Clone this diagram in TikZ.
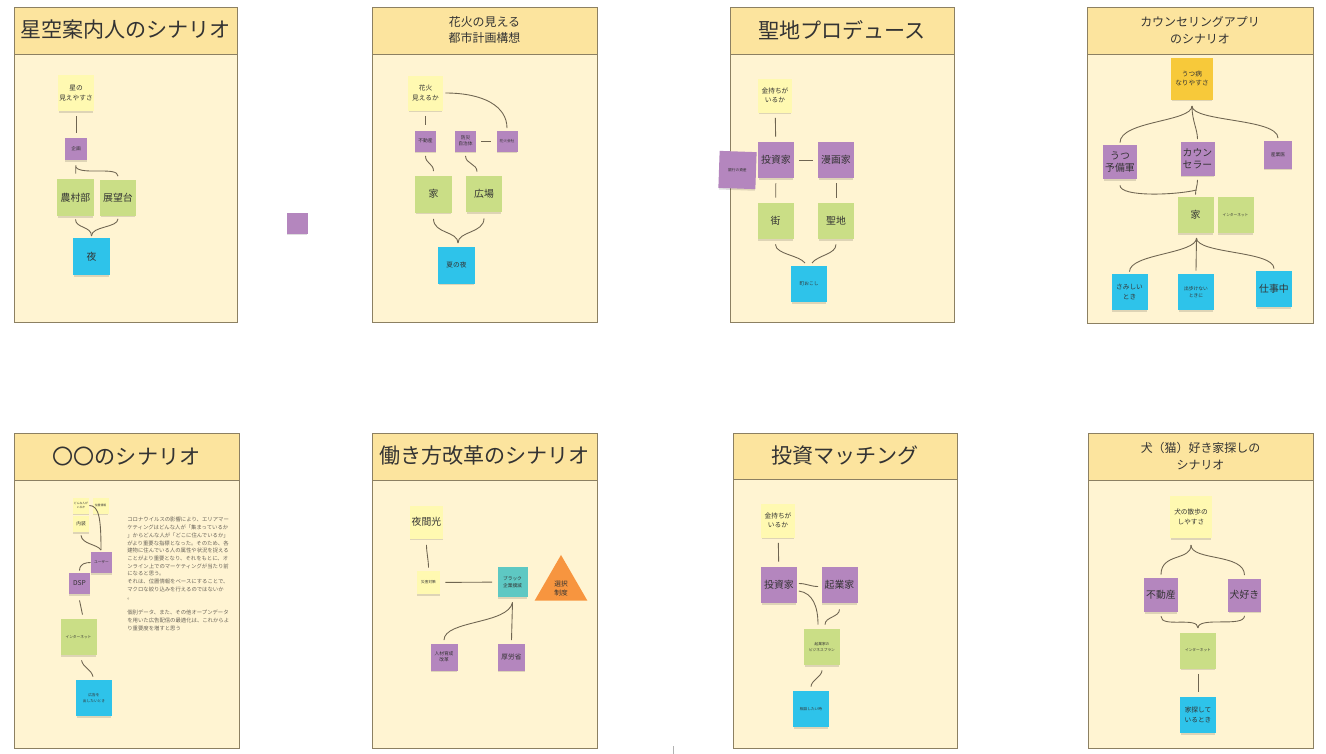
\documentclass[tikz,border=0pt]{standalone}
\usepackage{fontspec}
\setmainfont{Noto Sans CJK JP}
\usetikzlibrary{shapes.geometric,shadows}

\definecolor{panelbg}{HTML}{FFF4D2}
\definecolor{headbg}{HTML}{FCE49E}
\definecolor{panelline}{HTML}{8C8062}
\definecolor{padyellow}{HTML}{FFF9B1}
\definecolor{padpurple}{HTML}{B486BE}
\definecolor{padgreen}{HTML}{CADE86}
\definecolor{padblue}{HTML}{2EC3EA}
\definecolor{padorange}{HTML}{F7C93A}
\definecolor{padteal}{HTML}{5EC8C3}
\definecolor{trifill}{HTML}{F7953F}
\definecolor{linkcol}{HTML}{6F6551}
\definecolor{inkcol}{HTML}{333333}
\definecolor{memocol}{HTML}{6A6459}

\tikzset{
  panelbox/.style={fill=panelbg, draw=panelline, line width=0.5pt},
  headbox/.style={fill=headbg, draw=panelline, line width=0.5pt},
  ptitle/.style={font=\fontsize{12}{14}\selectfont, text=inkcol},
  ptitletwo/.style={font=\fontsize{6.8}{9.6}\selectfont, text=inkcol, align=center},
  note/.style={minimum size=#1*0.2mm, inner sep=0.3pt, align=center, text=inkcol,
    drop shadow={shadow xshift=0pt, shadow yshift=-0.45mm, shadow scale=0.97, opacity=0.13, fill=black}},
  ynote/.style={note=#1, fill=padyellow},
  pnote/.style={note=#1, fill=padpurple},
  gnote/.style={note=#1, fill=padgreen},
  bnote/.style={note=#1, fill=padblue},
  onote/.style={note=#1, fill=padorange},
  tnote/.style={note=#1, fill=padteal},
  bigtxt/.style={font=\fontsize{5.6}{6.8}\selectfont},
  midtxt/.style={font=\fontsize{3.8}{5.4}\selectfont},
  smtxt/.style={font=\fontsize{2.7}{3.6}\selectfont},
  tinytxt/.style={font=\fontsize{2.1}{3}\selectfont},
  microtxt/.style={font=\fontsize{1.6}{2.3}\selectfont},
  link/.style={draw=linkcol, line width=0.5pt},
  linkgap/.style={shorten <=1mm, shorten >=1mm},
}

\begin{document}
\begin{tikzpicture}[x=0.2mm, y=-0.2mm]
  \fill[white] (0,0) rectangle (1326,754);
  \useasboundingbox (0,0) rectangle (1326,754);

  % Panel 1 - star guide
  \draw[panelbox] (14,7) rectangle (237,322);
  \draw[headbox] (14,7) rectangle (237,54);
  \node[ptitle] (t1) at (125.5,30) {星空案内人のシナリオ};
  \node[ynote=36, midtxt] (p1star) at (76,93) {星の\\見えやすさ};
  \node[pnote=22, smtxt] (p1sub) at (76,149) {企画};
  \node[gnote=37, bigtxt] (p1farm) at (75.5,197.5) {農村部};
  \node[gnote=36, bigtxt] (p1view) at (118,197.5) {展望台};
  \node[bnote=37, bigtxt] (p1night) at (91.5,256.5) {夜};
  \coordinate (p1low) at (91.5,236);
  \draw[link, linkgap] (p1star) -- (p1sub);
  \draw[link, linkgap] (p1farm) -- (p1sub);
  \draw[link] ([yshift=-1.4mm]p1sub.south) .. controls +(6,8) and +(0,-10) .. ([yshift=0.6mm]p1view.north);
  \draw[link, shorten <=0.6mm] (p1farm.south) .. controls +(0,12) and +(0,-10) .. (p1low);
  \draw[link, shorten <=0.6mm] (p1view.south) .. controls +(0,12) and +(0,-10) .. (p1low);

  % stray sticky between panels
  \node[pnote=21] (stray) at (297,223) {};

  % Panel 2 - fireworks city
  \draw[panelbox] (372,7) rectangle (597,322);
  \draw[headbox] (372,7) rectangle (597,54);
  \node[ptitletwo] (t2) at (484.5,30) {花火の見える\\都市計画構想};
  \node[ynote=35, midtxt] (p2fire) at (425.5,93) {花火\\見えるか};
  \node[pnote=21, smtxt] (p2estate) at (425.5,141) {不動産};
  \node[pnote=21, smtxt] (p2gov) at (465.5,141) {防災\\自治体};
  \node[pnote=21, tinytxt] (p2comp) at (507,141) {花火会社};
  \node[gnote=37, bigtxt] (p2house) at (433.5,194) {家};
  \node[gnote=36, bigtxt] (p2square) at (484,194) {広場};
  \node[bnote=37, midtxt] (p2summer) at (456.5,265) {夏の夜};
  \coordinate (p2cusp) at (458,243);
  \draw[link, linkgap] (p2fire) -- (p2estate);
  \draw[link] ([xshift=0.4mm]p2fire.east) .. controls +(38,0) and +(0,-22) .. ([yshift=0.4mm]p2comp.north);
  \draw[link, linkgap] (p2gov) -- (p2comp);
  \draw[link] ([yshift=-0.8mm]p2estate.south) .. controls +(0,8) and +(0,-8) .. ([yshift=0.8mm]p2house.north);
  \draw[link] ([yshift=-0.8mm]p2gov.south) .. controls +(0,8) and +(0,-8) .. ([xshift=-1.4mm, yshift=0.8mm]p2square.north);
  \draw[link] ([yshift=-1.2mm]p2house.south) .. controls +(0,15) and +(0,-12) .. (p2cusp);
  \draw[link] ([yshift=-1.2mm]p2square.south) .. controls +(0,15) and +(0,-12) .. (p2cusp);

  % Panel 3 - holy land
  \draw[panelbox] (730,7) rectangle (954,322);
  \draw[headbox] (730,7) rectangle (954,54);
  \node[ptitle] (t3) at (842,30) {聖地プロデュース};
  \node[ynote=34, midtxt] (p3rich) at (775,95.5) {金持ちが\\いるか};
  \node[pnote=36, bigtxt] (p3inv) at (776,160) {投資家};
  \node[pnote=36, bigtxt] (p3manga) at (836,160) {漫画家};
  \node[pnote=37, tinytxt, rotate=-2] (p3bank) at (737.5,170) {銀行の資産};
  \node[gnote=36, bigtxt] (p3town) at (775.5,221) {街};
  \node[gnote=36, bigtxt] (p3holy) at (836,221) {聖地};
  \node[bnote=36, smtxt] (p3revive) at (809,284) {町おこし};
  \coordinate (p3cuspl) at (805,263);
  \coordinate (p3cuspr) at (812,263);
  \draw[link, linkgap] (p3rich) -- (p3inv);
  \draw[link, linkgap] (p3inv) -- (p3manga);
  \draw[link, linkgap] (p3inv) -- (p3town);
  \draw[link, linkgap] (p3manga) -- (p3holy);
  \draw[link] ([yshift=-1mm]p3town.south) .. controls +(0,10) and +(-6,-8) .. (p3cuspl);
  \draw[link] ([yshift=-1mm]p3holy.south) .. controls +(0,10) and +(6,-8) .. (p3cuspr);

  % Panel 4 - counseling app
  \draw[panelbox] (1087,7) rectangle (1313,323);
  \draw[headbox] (1087,7) rectangle (1313,54);
  \node[ptitletwo] (t4) at (1200,30) {カウンセリングアプリ\\のシナリオ};
  \node[onote=42, midtxt] (p4dep) at (1192,78.5) {うつ病\\なりやすさ};
  \node[pnote=34, bigtxt] (p4pre) at (1120,162) {うつ\\予備軍};
  \node[pnote=34, bigtxt] (p4coun) at (1197.5,158.5) {カウン\\セラー};
  \node[pnote=28, smtxt] (p4ind) at (1278,154.5) {産業医};
  \node[gnote=36, bigtxt] (p4home) at (1195.5,215) {家};
  \node[gnote=36, tinytxt] (p4net) at (1235.5,215) {インターネット};
  \node[bnote=36, midtxt] (p4lonely) at (1129.5,292) {さみしい\\とき};
  \node[bnote=36, smtxt] (p4out) at (1196,292) {出歩けない\\ときに};
  \node[bnote=36, bigtxt] (p4work) at (1274,289) {仕事中};
  \coordinate (p4top) at (1192,106);
  \coordinate (p4mid) at (1196.5,190);
  \coordinate (p4low) at (1196.5,238);
  \draw[link] (p4top) .. controls +(0,16) and +(0,-22) .. ([yshift=0.4mm]p4pre.north);
  \draw[link] (p4top) .. controls +(0,15) and +(0,-10) .. ([yshift=0.4mm]p4coun.north);
  \draw[link] (p4top) .. controls +(0,16) and +(0,-20) .. ([yshift=0.4mm]p4ind.north);
  \draw[link] ([yshift=-1.2mm]p4pre.south) .. controls +(0,12) and +(-20,5) .. (p4mid);
  \draw[link] ([yshift=-0.8mm]p4coun.south) .. controls +(0,6) and +(0,-6) .. ([yshift=0.4mm]p4home.north);
  \draw[link] (p4low) .. controls +(0,16) and +(0,-18) .. ([yshift=0.4mm]p4lonely.north);
  \draw[link] (p4low) -- ([yshift=0.6mm]p4out.north);
  \draw[link] (p4low) .. controls +(0,16) and +(0,-18) .. ([yshift=0.4mm]p4work.north);

  % Panel 5 - placeholder scenario
  \draw[panelbox] (14,433) rectangle (239,748);
  \draw[headbox] (14,433) rectangle (239,480);
  \node[ptitle] (t5) at (126.5,456) {〇〇のシナリオ};
  \node[ynote=16, microtxt] (p5who) at (81,505.5) {どんな人が\\いるか};
  \node[ynote=16, microtxt] (p5loc) at (100.5,505.5) {位置情報};
  \node[ynote=16, smtxt] (p5int) at (81,524) {内装};
  \node[pnote=21, tinytxt] (p5user) at (101.5,562.5) {ユーザー};
  \node[pnote=21, midtxt] (p5dsp) at (79.5,583.5) {DSP};
  \node[gnote=36, tinytxt] (p5net) at (78.5,637) {インターネット};
  \node[bnote=36, tinytxt] (p5ad) at (94,698) {広告を\\出したいとき};
  \node[anchor=north west, inner sep=0pt, align=left, text=memocol,
        font=\fontsize{3.05}{4.4}\selectfont] (p5memo) at (127,517) {%
    コロナウイルスの影響により、エリアマー\\
    ケティングはどんな人が「集まっているか\\
    」からどんな人が「どこに住んでいるか」\\
    がより重要な指標となった。そのため、各\\
    建物に住んでいる人の属性や状況を捉える\\
    ことがより重要となり、それをもとに、オ\\
    ンライン上でのマーケティングが当たり前\\
    になると思う。\\
    それは、位置情報をベースにすることで、\\
    マクロな絞り込みを行えるのではないか\\
    。\\
    \mbox{}\\
    個別データ、また、その他オープンデータ\\
    を用いた広告配信の最適化は、これからよ\\
    り重要度を増すと思う};
  \coordinate (p5join) at (101,550);
  \draw[link] (p5who.east) .. controls +(10,0) and +(0,-30) .. (p5join);
  \draw[link] ([yshift=-0.6mm]p5int.south) .. controls +(1,9) and +(-4,-6) .. (p5join);
  \draw[link] ([yshift=0.4mm]p5dsp.north) .. controls +(0,-7) and +(-5,0) .. (p5user.west);
  \draw[link] ([yshift=-1.2mm]p5dsp.south) -- ([xshift=0.8mm, yshift=0.8mm]p5net.north);
  \draw[link] ([xshift=0.6mm, yshift=-1mm]p5net.south) .. controls +(2,8) and +(-2,-8) .. ([xshift=-0.2mm, yshift=0.6mm]p5ad.north);

  % Panel 6 - work style reform
  \draw[panelbox] (372,433) rectangle (597,748);
  \draw[headbox] (372,433) rectangle (597,480);
  \node[ptitle] (t6) at (484.5,456) {働き方改革のシナリオ};
  \node[ynote=33, bigtxt] (p6light) at (426.5,522) {夜間光};
  \node[ynote=23, tinytxt] (p6dis) at (428.5,582.5) {災害対策};
  \node[tnote=30, smtxt] (p6black) at (512.5,582) {ブラック\\企業撲滅};
  \node[regular polygon, regular polygon sides=3, minimum size=50.8*0.2mm, inner sep=0pt,
        fill=trifill, align=center, text=inkcol, midtxt] (p6tri) at (561,585.4) {\\[0.4mm]選択\\制度};
  \node[pnote=27, smtxt] (p6hr) at (444,657) {人材育成\\改革};
  \node[pnote=27, midtxt] (p6mhlw) at (511.5,657) {厚労省};
  \draw[link] ([yshift=-1.2mm]p6light.south) .. controls +(0,8) and +(0,-8) .. ([yshift=0.6mm]p6dis.north);
  \draw[link, linkgap] (p6dis) -- (p6black);
  \draw[link] ([yshift=-1mm]p6black.south) -- ([yshift=0.6mm]p6mhlw.north);
  \draw[link] ([yshift=-1mm]p6black.south) .. controls +(-4,22) and +(0,-20) .. ([yshift=0.6mm]p6hr.north);

  % Panel 7 - investment matching
  \draw[panelbox] (733,433) rectangle (957,748);
  \draw[headbox] (733,433) rectangle (957,479);
  \node[ptitle] (t7) at (845,456) {投資マッチング};
  \node[ynote=34, midtxt] (p7rich) at (778,520.5) {金持ちが\\いるか};
  \node[pnote=36, bigtxt] (p7inv) at (779,585) {投資家};
  \node[pnote=36, bigtxt] (p7ent) at (839.5,585) {起業家};
  \node[gnote=36, tinytxt] (p7pitch) at (822,647) {起業家の\\ビジネスプラン};
  \node[bnote=36, tinytxt] (p7blue) at (811,709) {相談したい時};
  \draw[link, linkgap] (p7rich) -- (p7inv);
  \draw[link] ([xshift=0.3mm, yshift=0.3mm]p7inv.east) .. controls +(8,0) and +(-8,0) .. ([xshift=-0.6mm, yshift=-0.3mm]p7ent.west);
  \draw[link] ([xshift=0.3mm, yshift=-1.2mm]p7inv.east) .. controls +(14,2) and +(0,-18) .. ([xshift=-0.8mm, yshift=0.8mm]p7pitch.north);
  \draw[link] ([yshift=-1.2mm]p7ent.south) .. controls +(0,8) and +(0,-8) .. ([xshift=0.6mm, yshift=0.8mm]p7pitch.north);
  \draw[link] ([yshift=-1mm]p7pitch.south) .. controls +(0,6) and +(0,-6) .. ([yshift=0.8mm]p7blue.north);

  % Panel 8 - dog lover house hunting
  \draw[panelbox] (1088,433) rectangle (1313,748);
  \draw[headbox] (1088,433) rectangle (1313,480);
  \node[ptitletwo] (t8) at (1200.5,456) {犬（猫）好き家探しの\\シナリオ};
  \node[ynote=42, midtxt] (p8walk) at (1191,517) {犬の散歩の\\しやすさ};
  \node[pnote=34, bigtxt] (p8estate) at (1161,595) {不動産};
  \node[pnote=33, bigtxt] (p8dog) at (1244.5,595) {犬好き};
  \node[gnote=36, tinytxt] (p8net) at (1198,650.5) {インターネット};
  \node[bnote=36, midtxt] (p8search) at (1198,715) {家探して\\いるとき};
  \coordinate (p8top) at (1191,545);
  \coordinate (p8mid) at (1198,628);
  \draw[link] (p8top) .. controls +(0,16) and +(0,-22) .. ([yshift=0.6mm]p8estate.north);
  \draw[link] (p8top) .. controls +(0,16) and +(0,-22) .. ([yshift=0.6mm]p8dog.north);
  \draw[link] ([yshift=-0.8mm]p8estate.south) .. controls +(0,12) and +(0,-12) .. (p8mid);
  \draw[link] ([yshift=-0.8mm]p8dog.south) .. controls +(0,12) and +(0,-12) .. (p8mid);
  \draw[link, linkgap] (p8net) -- (p8search);

  % small tick at the bottom edge
  \draw[gray!60, line width=0.4pt] (673,746) -- (673,754);
\end{tikzpicture}
\end{document}
